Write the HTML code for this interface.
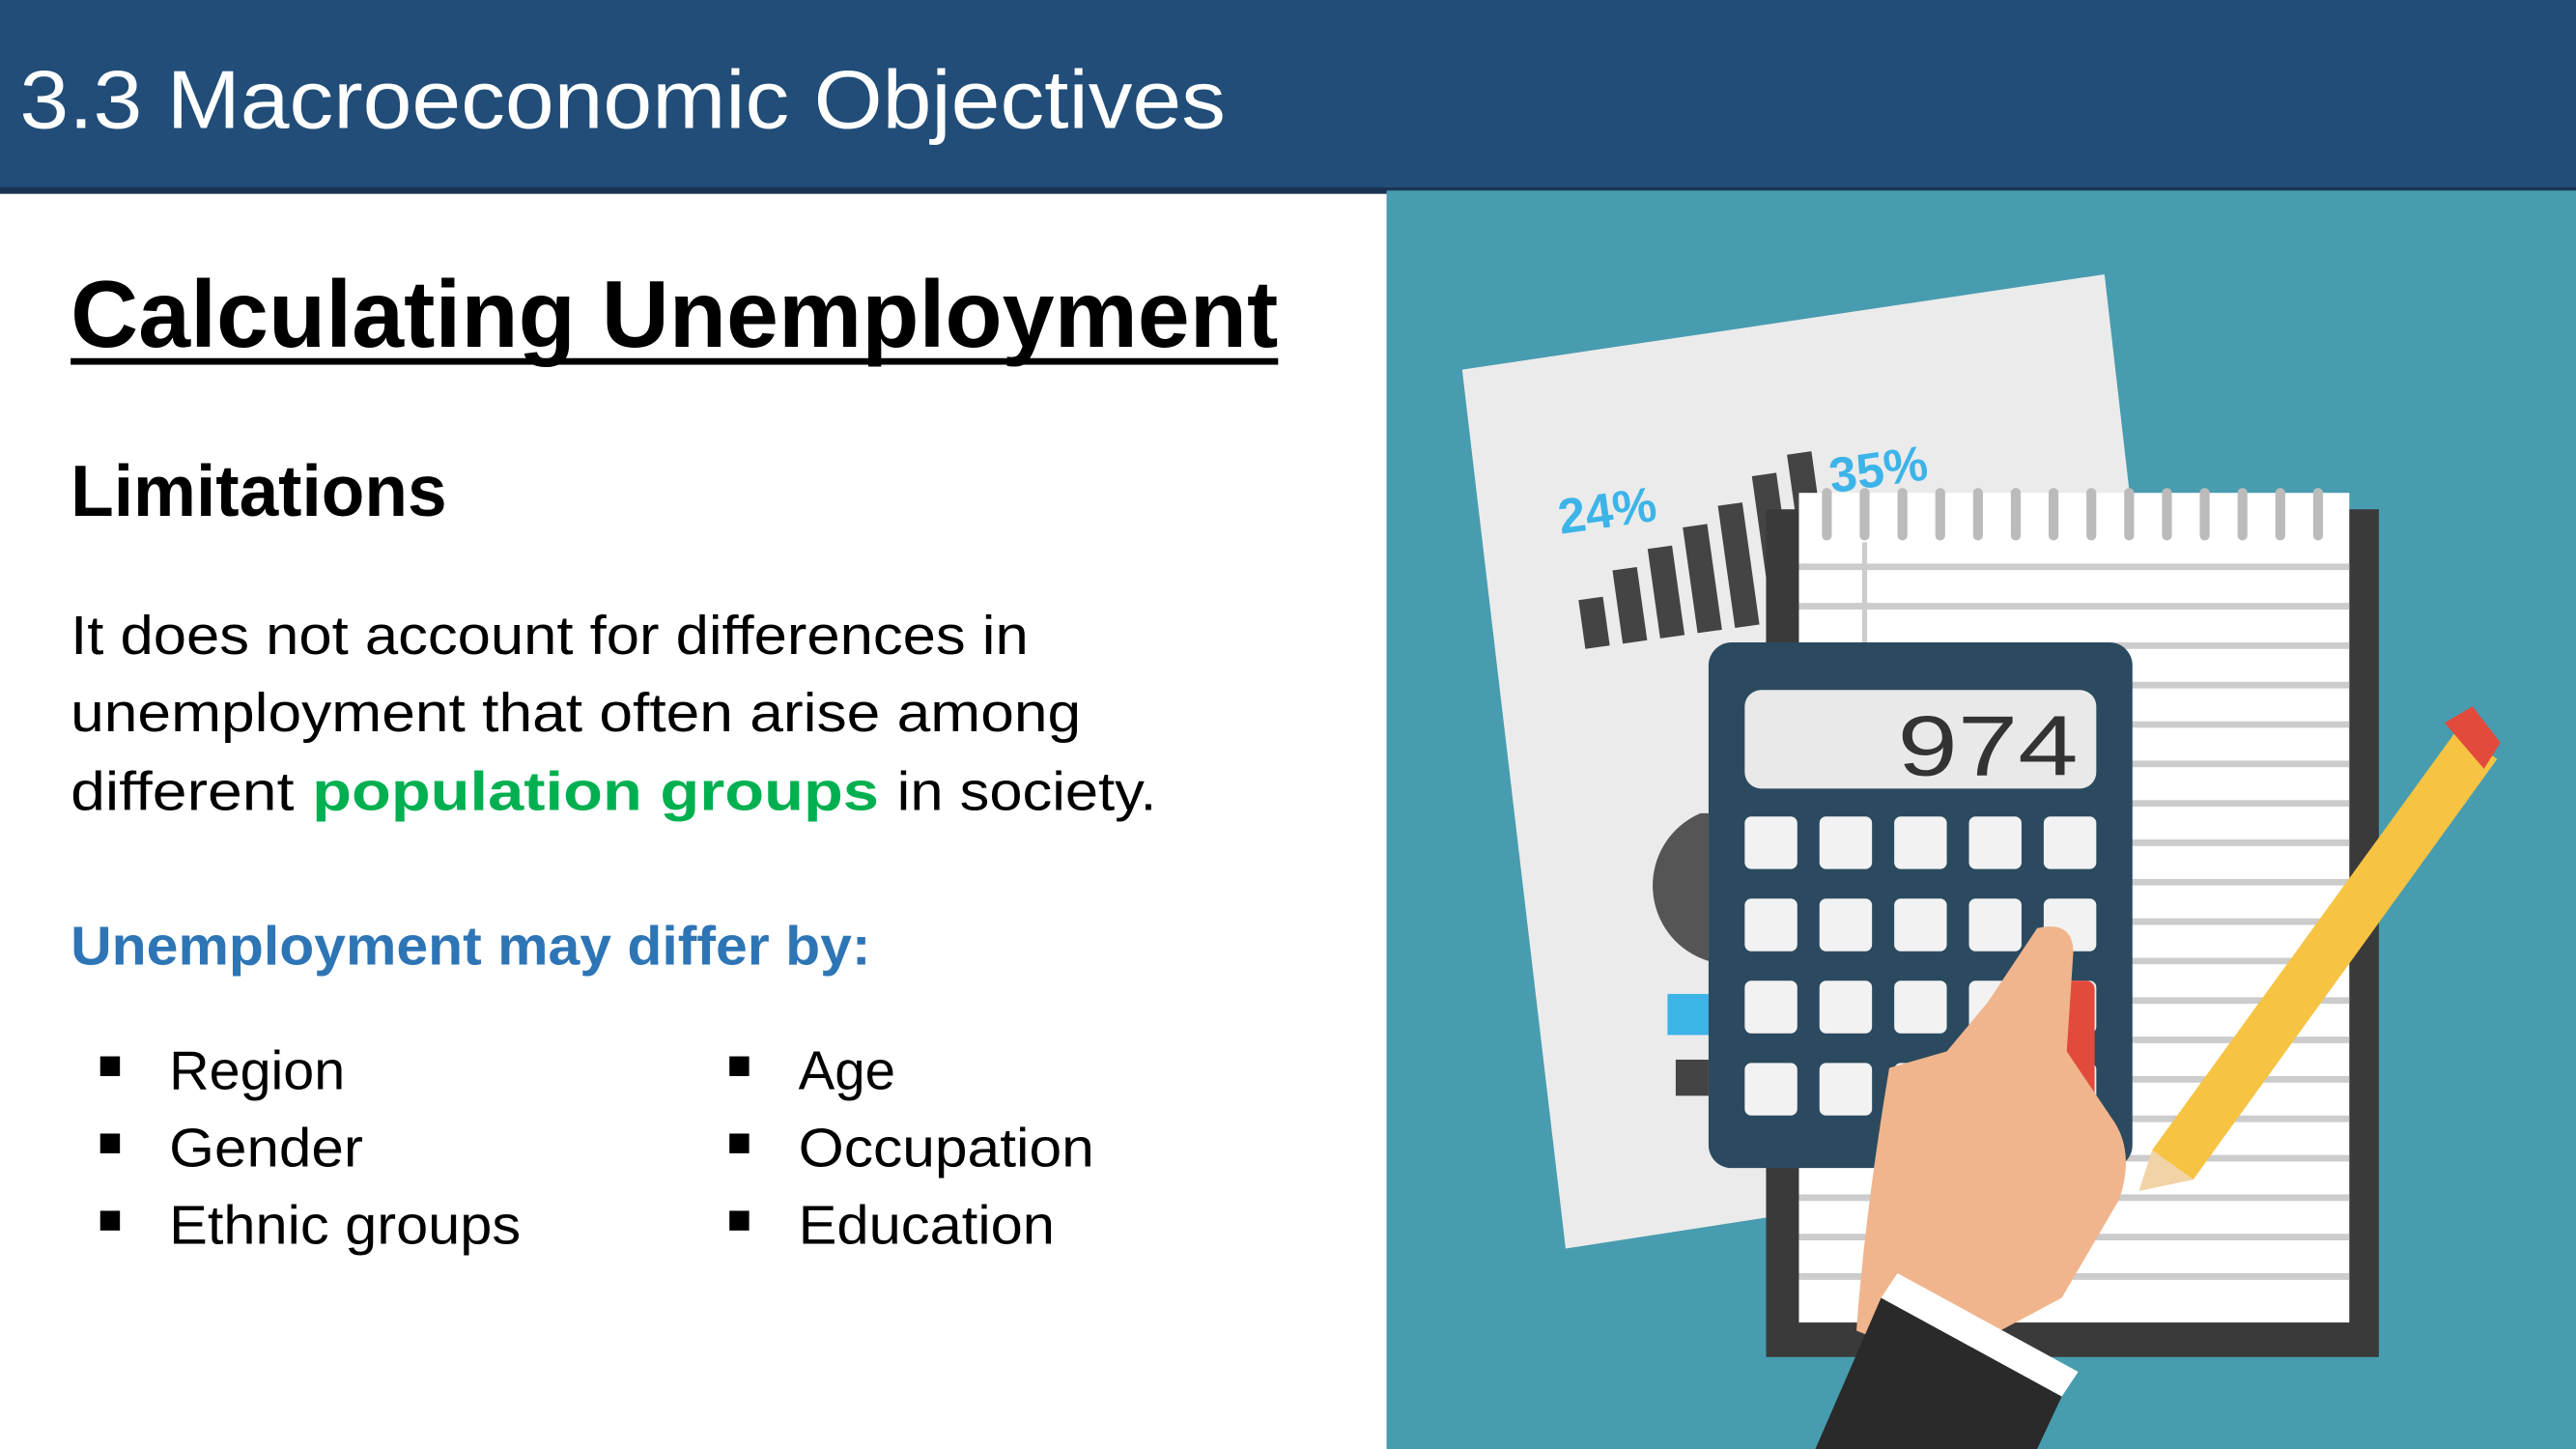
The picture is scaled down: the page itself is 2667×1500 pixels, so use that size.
<!DOCTYPE html>
<html><head><meta charset="utf-8"><style>
html,body{margin:0;padding:0;background:#fff;}
svg{display:block;}
text{font-family:"Liberation Sans",sans-serif;}
</style></head><body>
<svg width="2667" height="1500" viewBox="0 0 1568 882" preserveAspectRatio="none">
<rect x="0" y="0" width="1568" height="882" fill="#fff"/>
<!-- header -->
<rect x="0" y="0" width="1568" height="116" fill="#214d78"/>
<rect x="0" y="114" width="1568" height="4" fill="#1a3350"/>
<text x="12" y="78" font-size="50" fill="#fff" textLength="734" lengthAdjust="spacingAndGlyphs">3.3 Macroeconomic Objectives</text>
<!-- left text -->
<text x="43" y="211" font-size="58" font-weight="bold" fill="#000" textLength="735" lengthAdjust="spacingAndGlyphs">Calculating Unemployment</text>
<rect x="43" y="218" width="735" height="4" fill="#000"/>
<text x="43" y="314" font-size="44" font-weight="bold" fill="#000" textLength="229" lengthAdjust="spacingAndGlyphs">Limitations</text>
<g font-size="33" fill="#000">
<text x="43" y="398" textLength="583" lengthAdjust="spacingAndGlyphs">It does not account for differences in</text>
<text x="43" y="445" textLength="615" lengthAdjust="spacingAndGlyphs">unemployment that often arise among</text>
<text x="43" y="493" textLength="136" lengthAdjust="spacingAndGlyphs">different</text>
<text x="190" y="493" textLength="345" lengthAdjust="spacingAndGlyphs" font-weight="bold" fill="#00b050">population groups</text>
<text x="546" y="493" textLength="158" lengthAdjust="spacingAndGlyphs">in society.</text>
</g>
<text x="43" y="587" font-size="33" font-weight="bold" fill="#2e75b6" textLength="487" lengthAdjust="spacingAndGlyphs">Unemployment may differ by:</text>
<g font-size="33" fill="#000">
<rect x="61" y="643" width="12" height="12"/><text x="103" y="663" textLength="107" lengthAdjust="spacingAndGlyphs">Region</text>
<rect x="61" y="690" width="12" height="12"/><text x="103" y="710" textLength="118" lengthAdjust="spacingAndGlyphs">Gender</text>
<rect x="61" y="737" width="12" height="12"/><text x="103" y="757" textLength="214" lengthAdjust="spacingAndGlyphs">Ethnic groups</text>
<rect x="444" y="643" width="12" height="12"/><text x="486" y="663" textLength="59" lengthAdjust="spacingAndGlyphs">Age</text>
<rect x="444" y="690" width="12" height="12"/><text x="486" y="710" textLength="180" lengthAdjust="spacingAndGlyphs">Occupation</text>
<rect x="444" y="737" width="12" height="12"/><text x="486" y="757" textLength="156" lengthAdjust="spacingAndGlyphs">Education</text>
</g>
<!-- illustration -->
<g>
<rect x="844" y="116" width="724" height="766" fill="#489caf"/>
<polygon points="890,225 1281,167 1342,700 953,760" fill="#ebebeb"/>
<text x="950" y="325" font-size="30" font-weight="bold" fill="#3db4e8" transform="rotate(-8 950 325)">24%</text>
<text x="1115" y="300" font-size="30" font-weight="bold" fill="#3db4e8" transform="rotate(-8 1115 300)">35%</text>
<g id="bars" fill="#444" transform="rotate(-8 965 395)"></g>
<path d="M1035,495 A48,48 0 0 0 1040,585 L1040,495 Z" fill="#555"/>
<rect x="1015" y="605" width="25" height="25" fill="#3db4e8"/>
<rect x="1020" y="645" width="20" height="22" fill="#444"/>
<rect x="1075" y="310" width="373" height="516" fill="#3a3a3a"/>
<rect x="1095" y="300" width="335" height="505" fill="#fff"/>
<g id="lines" stroke="#ccc" stroke-width="4"></g>
<line x1="1135" y1="330" x2="1135" y2="395" stroke="#ccc" stroke-width="3"/>
<g id="rings"></g>
<rect x="1040" y="391" width="258" height="320" rx="14" fill="#2b4a5f"/>
<rect x="1062" y="420" width="214" height="60" rx="10" fill="#e9e9e9"/>
<text x="1265" y="472" font-size="52" fill="#333" text-anchor="end" font-family="Liberation Mono" textLength="110" lengthAdjust="spacingAndGlyphs">974</text>
<g id="keys"></g>
<rect x="1245" y="597" width="30" height="80" rx="5" fill="#e24b3b"/>
<polygon points="1310,700 1495,445 1520,462 1335,718" fill="#f6c343"/>
<polygon points="1310,700 1302,725 1335,718" fill="#f2d3a5"/>
<polygon points="1488,440 1505,430 1522,452 1512,468" fill="#e24b3b"/>
<path d="M1150,650 L1185,640 L1210,610 L1240,565 Q1262,560 1262,580 L1258,640 L1285,680 Q1300,700 1290,730 L1255,790 L1180,830 L1130,810 Q1135,740 1150,650 Z" fill="#f0b58c"/>
<polygon points="1105,882 1145,790 1255,850 1240,882" fill="#2a2a2a"/>
<polygon points="1145,790 1155,775 1265,835 1255,850" fill="#fff"/>
</g>
<script>
var barValues=[30,45,55,65,75,90,100];
var g=document.getElementById('bars');
barValues.forEach(function(v,i){var r=document.createElementNS('http://www.w3.org/2000/svg','rect');
r.setAttribute('x',965+i*23);r.setAttribute('y',395-v);r.setAttribute('width',15);r.setAttribute('height',v);


g.appendChild(r);});
var L=document.getElementById('lines');
for(var y=345;y<800;y+=24){var l=document.createElementNS('http://www.w3.org/2000/svg','line');l.setAttribute('x1',1095);l.setAttribute('x2',1430);l.setAttribute('y1',y);l.setAttribute('y2',y);L.appendChild(l);}
var R=document.getElementById('rings');
for(var x=1112;x<1420;x+=23){var c=document.createElementNS('http://www.w3.org/2000/svg','rect');c.setAttribute('x',x-3);c.setAttribute('y',297);c.setAttribute('width',6);c.setAttribute('height',32);c.setAttribute('rx',3);c.setAttribute('fill','#bbb');R.appendChild(c);}
var K=document.getElementById('keys');
for(var r=0;r<4;r++)for(var c2=0;c2<5;c2++){var k=document.createElementNS('http://www.w3.org/2000/svg','rect');k.setAttribute('x',1062+c2*45.5);k.setAttribute('y',497+r*50);k.setAttribute('width',32);k.setAttribute('height',32);k.setAttribute('rx',4);k.setAttribute('fill','#f2f2f2');


K.appendChild(k);}
</script>
</svg>
</body></html>
